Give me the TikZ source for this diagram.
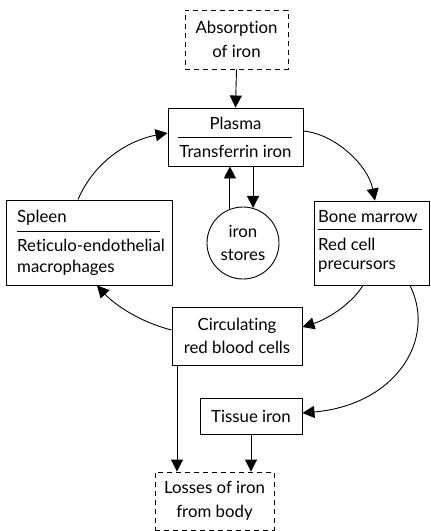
\documentclass[tikz,border=0pt]{standalone}
\usepackage{fontspec}
\setmainfont{Lato}[Ligatures=NoCommon]
\usetikzlibrary{arrows.meta}
\begin{document}
\begin{tikzpicture}[x=1pt,y=-1pt,
  every node/.style={font=\fontsize{16.8}{23.5}\selectfont, inner sep=0pt},
  box/.style={draw, line width=0.9pt, rectangle, minimum width=#1},
  box/.default=100pt,
  dbox/.style={box=#1, dash pattern=on 5pt off 4pt},
  conn/.style={line width=0.9pt, -{Triangle[length=12pt,width=12pt]}},
  rulebar/.style={line width=0.9pt},
  txt/.style={align=center},
  ltxt/.style={align=left, anchor=west}]
\useasboundingbox (0,0) rectangle (431,531);

% boxes
\node[dbox=103pt, minimum height=59pt] (abs) at (236.5,39.5) {};
\node[box=135pt, minimum height=58pt] (plasma) at (235.5,137) {};
\node[draw, line width=0.9pt, circle, minimum size=72pt] (stores) at (243,243) {};
\node[box=166pt, minimum height=85pt] (spleen) at (89,242.5) {};
\node[box=115pt, minimum height=84pt] (marrow) at (372,243) {};
\node[box=130pt, minimum height=58pt] (circ) at (237,336) {};
\node[box=102pt, minimum height=36pt] (tissue) at (251,416) {};
\node[dbox=119pt, minimum height=58pt] (loss) at (214.5,501) {};

% labels
\node[txt] (absT) at (abs.center) {Absorption\\of iron};
\node (plasmaT) at (235.5,123) {Plasma};
\node (transT) at (235.5,151) {Transferrin iron};
\draw[rulebar] (178,137) -- (292,137);
\node[txt] (storesT) at (stores.center) {iron\\stores};
\node[ltxt] (spleenT) at (17,218) {Spleen};
\draw[rulebar] (17,231) -- (160,231);
\node[ltxt] (retT) at (17,245) {Reticulo-endothelial};
\node[ltxt] (macT) at (17,268) {macrophages};
\node[ltxt] (boneT) at (318,217) {Bone marrow};
\draw[rulebar] (318,229) -- (422,229);
\node[ltxt] (redT) at (318,244) {Red cell};
\node[ltxt] (preT) at (318,267) {precursors};
\node[txt] (circT) at (circ.center) {Circulating\\red blood cells};
\node (tissueT) at (tissue.center) {Tissue iron};
\node[txt] (lossT) at (loss.center) {Losses of iron\\from body};

% straight connectors
\draw[conn] (abs.south) -- (plasma.north);
\draw[conn] (stores.111) -- (stores.111 |- plasma.south);
\draw[conn] (stores.74 |- plasma.south) -- (stores.74);
\draw[conn] (circ.south -| 177,0) -- (loss.north -| 177,0);
\draw[conn] (tissue.south) -- (tissue.south |- loss.north);

% curved connectors
\coordinate (sTop) at (spleen.north -| 78,0);
\coordinate (pLeft) at (plasma.west |- 0,133);
\draw[conn] (sTop) .. controls (95,160) and (130,140) .. (pLeft);
\coordinate (pRight) at (plasma.east |- 0,131);
\coordinate (mTop) at (marrow.north -| 375,0);
\draw[conn] (pRight) .. controls (335,134) and (368,165) .. (mTop);
\coordinate (mBot) at (marrow.south -| 363,0);
\coordinate (cRight) at (circ.east |- 0,327);
\draw[conn] (mBot) .. controls (350,306) and (325,320) .. (cRight);
\coordinate (cLeft) at (circ.west |- 0,330);
\coordinate (sBot) at (spleen.south -| 97,0);
\draw[conn] (cLeft) .. controls (140,322) and (115,305) .. (sBot);
\coordinate (mBotR) at (marrow.south -| 410,0);
\coordinate (tRight) at (tissue.east |- 0,413);
\draw[conn] (mBotR) .. controls (437,340) and (395,405) .. (tRight);
\end{tikzpicture}
\end{document}
